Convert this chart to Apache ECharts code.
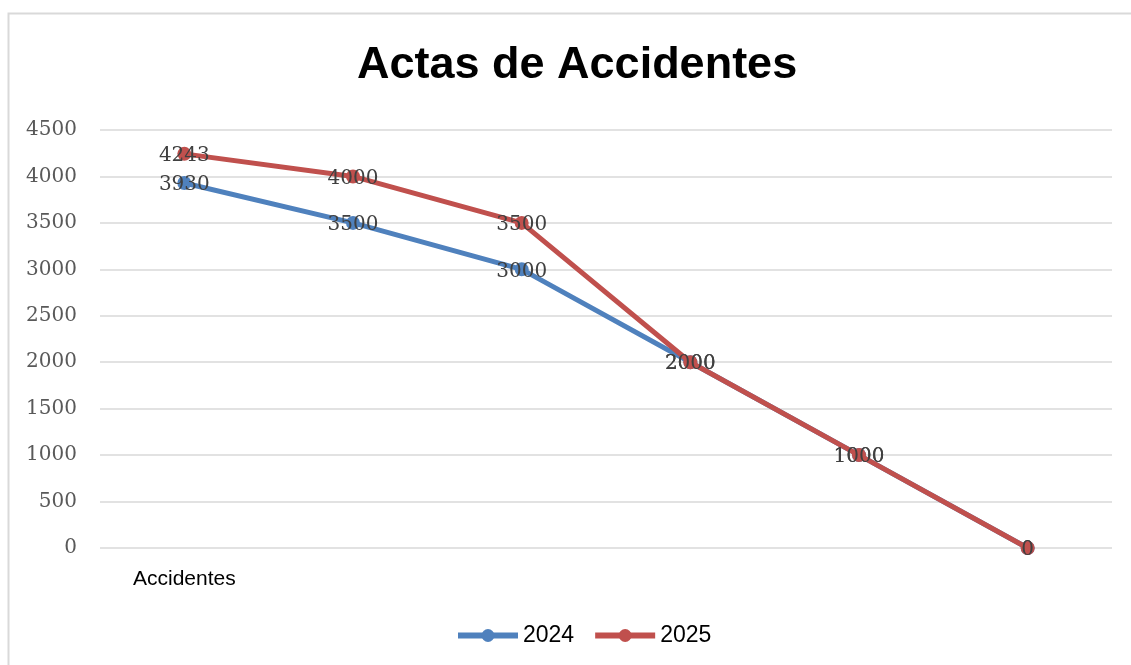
<!DOCTYPE html>
<html>
<head>
<meta charset="utf-8">
<script src="https://cdn.jsdelivr.net/npm/echarts@6/dist/echarts.min.js"></script>
<style>
  html, body { margin: 0; padding: 0; background: #fff; }
  #chart { width: 1131px; height: 665px; }
</style>
</head>
<body>
<div id="chart"></div>
<script>
// datos
var categorias = ['Accidentes', '', '', '', '', ''];
var serie2024 = [3930, 3500, 3000, 2000, 1000, 0];
var serie2025 = [4243, 4000, 3500, 2000, 1000, 0];
var nombres = ['2024', '2025'];

var myChart = echarts.init(document.getElementById('chart'));

function linea(nombre, datos, color) {
    return {
        name: nombre,
        type: 'line',
        data: datos,
        symbol: 'circle',
        symbolSize: 14,
        lineStyle: { width: 5, color: color },
        itemStyle: { color: color },
        label: {
            show: true,
            position: 'inside',
            offset: [0, 2],
            fontFamily: 'DejaVu Serif',
            fontSize: 20,
            color: '#404040'
        },
        z: nombre === '2025' ? 3 : 2
    };
}

var option = {
    animation: false,
    title: {
        text: 'Actas de Accidentes',
        left: 352,
        top: 38,
        textStyle: {
            fontFamily: 'Liberation Sans',
            fontWeight: 'bold',
            fontSize: 45,
            color: '#000'
        }
    },
    graphic: [{
        type: 'rect',
        shape: { x: 8.5, y: 13.5, width: 1300, height: 800 },
        style: { fill: 'none', stroke: '#d9d9d9', lineWidth: 2 },
        silent: true
    }],
    legend: {
        bottom: 13,
        left: 450,
        itemWidth: 60,
        itemHeight: 16,
        itemGap: 18,
        data: nombres,
        lineStyle: { width: 6 },
        textStyle: { fontFamily: 'Liberation Sans', fontSize: 23, color: '#000' }
    },
    grid: { left: 100, right: 19, top: 130, bottom: 117 },
    xAxis: {
        type: 'category',
        data: categorias,
        boundaryGap: true,
        axisLine: { show: false },
        axisTick: { show: false },
        axisLabel: {
            margin: 21,
            fontFamily: 'Liberation Sans',
            fontSize: 21,
            color: '#000'
        }
    },
    yAxis: {
        type: 'value',
        min: 0,
        max: 4500,
        interval: 500,
        axisLine: { show: false },
        axisTick: { show: false },
        splitLine: { lineStyle: { color: '#d9d9d9', width: 1.5 } },
        axisLabel: {
            margin: 23,
            fontFamily: 'DejaVu Serif',
            fontSize: 20,
            color: '#595959',
            formatter: function (v) { return String(v); }
        }
    },
    series: [
        linea('2024', serie2024, '#4F81BD'),
        linea('2025', serie2025, '#C0504D')
    ]
};

myChart.setOption(option);
</script>
</body>
</html>
